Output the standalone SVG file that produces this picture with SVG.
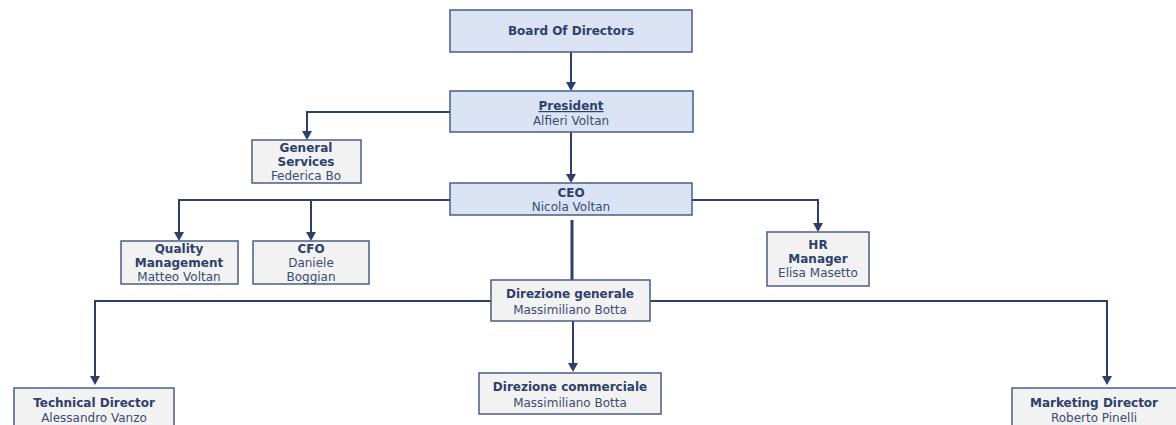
<svg xmlns="http://www.w3.org/2000/svg" width="1176" height="425" viewBox="0 0 1176 425">
<defs>
<style>
.blue{fill:#dae3f3;stroke:#4a5d85;stroke-width:1.5}
.gray{fill:#f2f2f2;stroke:#4a5d85;stroke-width:1.5}
.b{font-family:"DejaVu Sans",Verdana,sans-serif;font-size:12px;font-weight:bold;fill:#2f3f6b;text-anchor:middle}
.r{font-family:"DejaVu Sans",Verdana,sans-serif;font-size:12px;fill:#3b4b72;text-anchor:middle}
.c{fill:none;stroke:#2f3f6b;stroke-width:2}
.h{fill:#2f3f6b}
</style>
</defs>
<rect width="1176" height="425" fill="#ffffff"/>
<g id="connectors">
<path class="c" d="M571,52 V83"/>
<path class="h" d="M566,82 L576,82 L571,91 Z"/>
<path class="c" d="M571,132 V175"/>
<path class="h" d="M566,174 L576,174 L571,183 Z"/>
<path class="c" d="M450,112 H307 V132"/>
<path class="h" d="M302,131 L312,131 L307,140 Z"/>
<path class="c" d="M450,200 H179 V233"/>
<path class="h" d="M174,232 L184,232 L179,241 Z"/>
<path class="c" d="M311,200 V233"/>
<path class="h" d="M306,232 L316,232 L311,241 Z"/>
<path class="c" d="M692,200 H818 V224"/>
<path class="h" d="M813,223 L823,223 L818,232 Z"/>
<path d="M572,220 V280" fill="none" stroke="#2f3f6b" stroke-width="3"/>
<path class="c" d="M491,301 H95 V377"/>
<path class="h" d="M90,376 L100,376 L95,385 Z"/>
<path class="c" d="M650,301 H1107 V377"/>
<path class="h" d="M1102,376 L1112,376 L1107,385 Z"/>
<path class="c" d="M573,321 V364"/>
<path class="h" d="M568,363 L578,363 L573,372 Z"/>
</g>
<g id="board">
<rect class="blue" x="450" y="10" width="242" height="42"/>
<text class="b" x="571" y="35">Board Of Directors</text>
</g>
<g id="president">
<rect class="blue" x="450" y="91" width="243" height="41"/>
<text class="b" x="571" y="110" text-decoration="underline">President</text>
<text class="r" x="571" y="125">Alfieri Voltan</text>
</g>
<g id="general-services">
<rect class="gray" x="252" y="140" width="109" height="43"/>
<text class="b" x="306" y="152">General</text>
<text class="b" x="306" y="166">Services</text>
<text class="r" x="306" y="180">Federica Bo</text>
</g>
<g id="ceo">
<rect class="blue" x="450" y="183" width="242" height="32"/>
<text class="b" x="571" y="197">CEO</text>
<text class="r" x="571" y="211">Nicola Voltan</text>
</g>
<g id="quality">
<rect class="gray" x="121" y="241" width="117" height="43"/>
<text class="b" x="179" y="253">Quality</text>
<text class="b" x="179" y="267">Management</text>
<text class="r" x="179" y="281">Matteo Voltan</text>
</g>
<g id="cfo">
<rect class="gray" x="253" y="241" width="116" height="43"/>
<text class="b" x="311" y="253">CFO</text>
<text class="r" x="311" y="267">Daniele</text>
<text class="r" x="311" y="281">Boggian</text>
</g>
<g id="hr">
<rect class="gray" x="767" y="232" width="102" height="54"/>
<text class="b" x="818" y="249">HR</text>
<text class="b" x="818" y="263">Manager</text>
<text class="r" x="818" y="277">Elisa Masetto</text>
</g>
<g id="direzione-generale">
<rect class="gray" x="491" y="280" width="159" height="41"/>
<text class="b" x="570" y="298">Direzione generale</text>
<text class="r" x="570" y="314">Massimiliano Botta</text>
</g>
<g id="technical-director">
<rect class="gray" x="14" y="388" width="160" height="45"/>
<text class="b" x="94" y="407">Technical Director</text>
<text class="r" x="94" y="422">Alessandro Vanzo</text>
</g>
<g id="direzione-commerciale">
<rect class="gray" x="479" y="373" width="182" height="41"/>
<text class="b" x="570" y="391">Direzione commerciale</text>
<text class="r" x="570" y="407">Massimiliano Botta</text>
</g>
<g id="marketing-director">
<rect class="gray" x="1012" y="388" width="175" height="45"/>
<text class="b" x="1094" y="407">Marketing Director</text>
<text class="r" x="1094" y="422">Roberto Pinelli</text>
</g>
</svg>
